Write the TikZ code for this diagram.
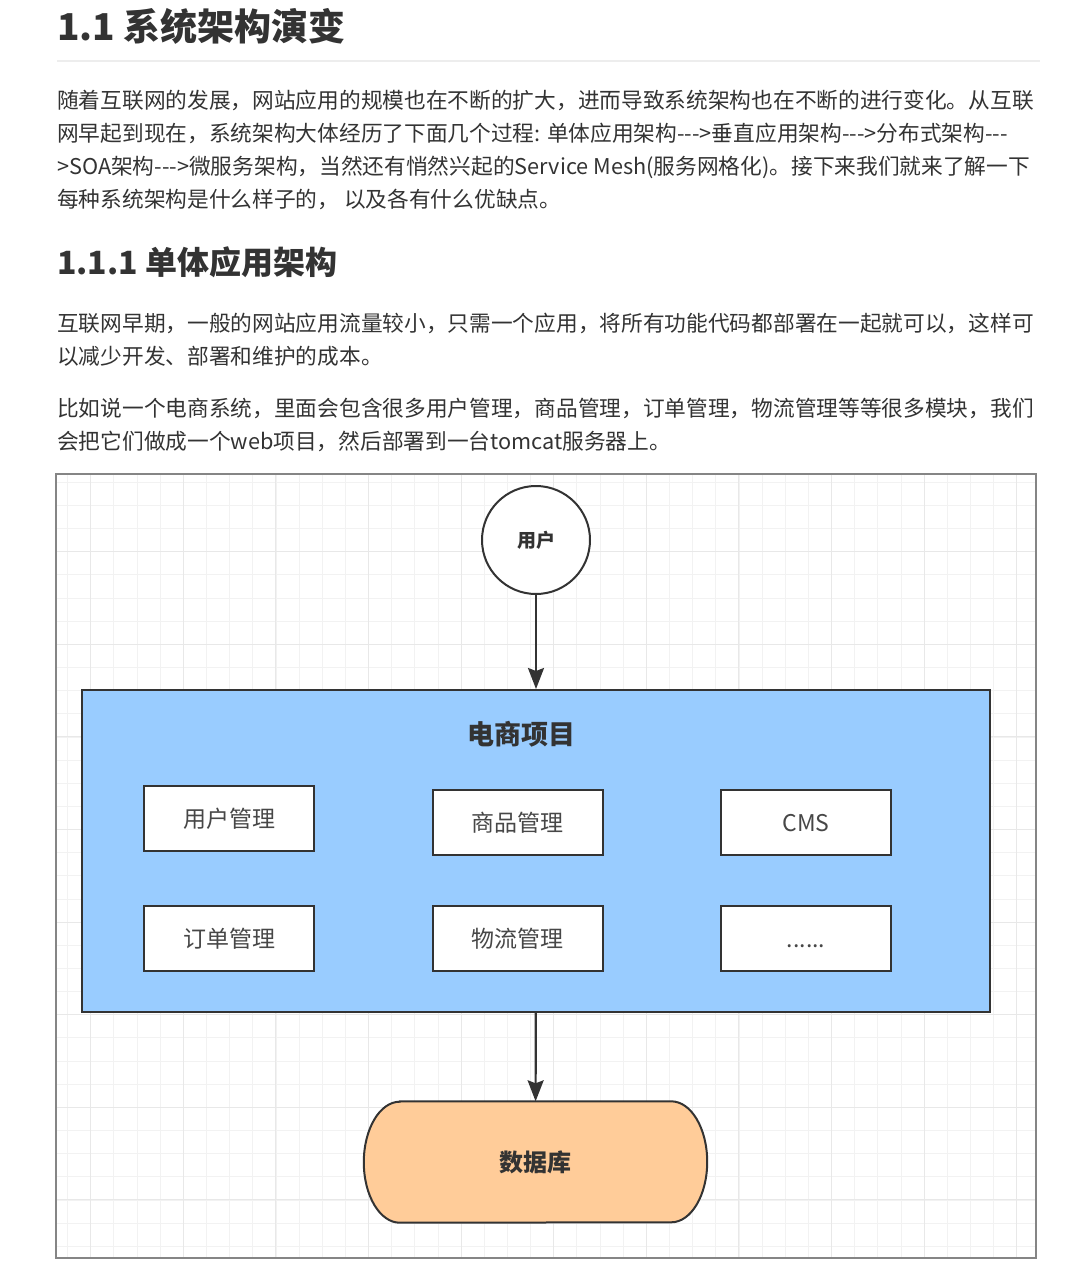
\documentclass[tikz,border=0pt]{standalone}
\usepackage{fontspec}
\setmainfont{Noto Sans CJK SC}[Ligatures=TeXOff]
\usepackage{xcolor}
\usepackage{tikz}
\usetikzlibrary{arrows.meta, positioning}
\definecolor{ink}{HTML}{333333}
\definecolor{projblue}{HTML}{99CCFF}
\definecolor{dborange}{HTML}{FFCC99}

\begin{document}
\begin{tikzpicture}[x=1pt, y=1pt,
  body/.style={anchor=base west, inner sep=0pt, text=ink, font=\fontsize{21.7}{26}\selectfont},
  head/.style={anchor=base west, inner sep=0pt, text=ink, font=\fontsize{#1}{#1}\selectfont\bfseries},
  minorgrid/.style={draw=black!5, line width=0.8pt},
  majorgrid/.style={draw=black!9, line width=1pt},
  frame/.style={draw=black!48, line width=2pt},
  outlined/.style={draw=ink, line width=2pt},
  module/.style={outlined, fill=white, minimum width=170, minimum height=65, text=ink!90,
    text height=20pt, text depth=3pt, font=\fontsize{23}{23}\selectfont},
  arr/.style={draw=ink, line width=2.2pt, -{Stealth[length=21pt, width=16pt, inset=3pt]}}
]
  \useasboundingbox (0,0) rectangle (1081,-1281);

  % Title and text
  \node[head=37] (h1) at (57,-41) {1.1 系统架构演变};
  \draw[draw=black!7, line width=2pt] (57,-61) -- (1040,-61);
  \node[body] (p1a) at (57,-108.5) {随着互联网的发展，网站应用的规模也在不断的扩大，进而导致系统架构也在不断的进行变化。从互联};
  \node[body] (p1b) at (57,-141.5) {网早起到现在，系统架构大体经历了下面几个过程: 单体应用架构--->垂直应用架构--->分布式架构---};
  \node[body] (p1c) at (57,-174.5) {>SOA架构--->微服务架构，当然还有悄然兴起的Service Mesh(服务网格化)。接下来我们就来了解一下};
  \node[body] (p1d) at (57,-207.5) {每种系统架构是什么样子的， 以及各有什么优缺点。};

  \node[head=32] (h2) at (57,-274) {1.1.1 单体应用架构};
  \node[body] (p2a) at (57,-331.5) {互联网早期，一般的网站应用流量较小，只需一个应用，将所有功能代码都部署在一起就可以，这样可};
  \node[body] (p2b) at (57,-364.5) {以减少开发、部署和维护的成本。};
  \node[body] (p3a) at (57,-416.5) {比如说一个电商系统，里面会包含很多用户管理，商品管理，订单管理，物流管理等等很多模块，我们};
  \node[body] (p3b) at (57,-449.5) {会把它们做成一个web项目，然后部署到一台tomcat服务器上。};

  % Canvas with grid
  \begin{scope}
    \clip (56,-474) rectangle (1036,-1258);
    \draw[minorgrid, shift={(90.7,-551.7)}, step=23.15] (-36,80) grid (946,-708);
    \draw[majorgrid, shift={(90.7,-551.7)}, step=92.6] (-36,80) grid (946,-708);
  \end{scope}
  \draw[frame] (56,-474) rectangle (1036,-1258);

  % User
  \node[outlined, circle, fill=white, minimum size=108, text=ink, font=\fontsize{19}{19}\selectfont\bfseries] (user) at (536,-540) {用户};

  % Project
  \node[outlined, fill=projblue, minimum width=908, minimum height=322] (proj) at (536,-851) {};
  \node[text=ink, font=\fontsize{27}{27}\selectfont\bfseries] (projname) at (521,-734) {电商项目};
  \node[module] (usermgr) at (229,-818.5) {用户管理};
  \node[module] (goodsmgr) at (517.5,-822.5) {商品管理};
  \node[module] (cms) at (806,-822.5) {CMS};
  \node[module] (ordermgr) at (229,-938.5) {订单管理};
  \node[module] (logimgr) at (517.5,-938.5) {物流管理};
  \node[module] (more) at (806,-938.5) {......};

  % Database
  \node[minimum width=271, minimum height=121, inner sep=0pt] (db) at (535.5,-1162) {};
  \draw[outlined, fill=dborange] (db.north west) -- (db.north east)
    arc[start angle=90, end angle=-90, x radius=36, y radius=60.5]
    -- (db.south west)
    arc[start angle=270, end angle=90, x radius=36, y radius=60.5] -- cycle;
  \node[text=ink, font=\fontsize{24}{24}\selectfont\bfseries] (dbname) at (db.center) {数据库};

  % Arrows
  \draw[arr] (user) -- (proj);
  \draw[arr] (proj) -- (db);

\end{tikzpicture}
\end{document}
